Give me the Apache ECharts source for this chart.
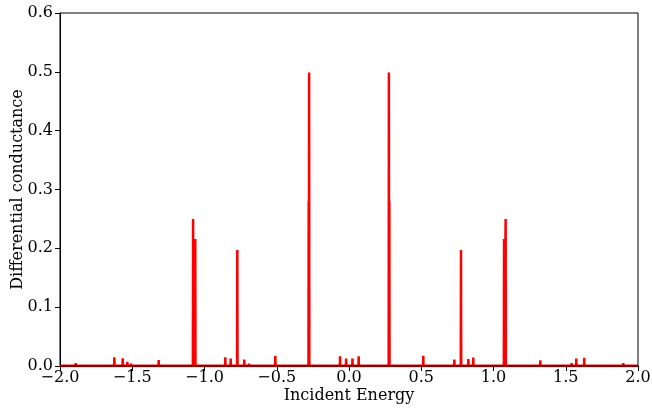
<!DOCTYPE html>
<html>
<head>
<meta charset="utf-8">
<script src="https://cdn.jsdelivr.net/npm/echarts@6/dist/echarts.min.js"></script>
<style>html,body{margin:0;padding:0;background:#fff}#c{width:652px;height:411px}</style>
</head>
<body>
<div id="c"></div>
<script>
// Peak positions (incident energy) and peak heights (differential conductance)
const peakEnergy = [-1.891,-1.869,-1.684,-1.624,-1.566,-1.534,-1.509,-1.317,-1.079,-1.064,-0.891,-0.856,-0.819,-0.773,-0.725,-0.692,-0.510,-0.279,-0.276,-0.090,-0.062,-0.020,0.024,0.067,0.095,0.276,0.279,0.514,0.699,0.729,0.775,0.826,0.860,0.897,1.073,1.084,1.324,1.518,1.541,1.573,1.628,1.691,1.875,1.898];
const peakHeight = [0.005,0.003,0.002,0.015,0.013,0.007,0.004,0.010,0.250,0.216,0.003,0.015,0.0125,0.197,0.011,0.004,0.0175,0.280,0.499,0.003,0.0165,0.0125,0.0125,0.0165,0.003,0.499,0.280,0.0175,0.003,0.011,0.197,0.012,0.0145,0.003,0.216,0.250,0.0095,0.003,0.005,0.0125,0.014,0.002,0.003,0.005];
const xTicks = [-2.0,-1.5,-1.0,-0.5,0.0,0.5,1.0,1.5,2.0];
const yTicks = [0.0,0.1,0.2,0.3,0.4,0.5,0.6];

const pts = [[-2,0]];
for (let i = 0; i < peakEnergy.length; i++) {
  const e = peakEnergy[i], h = peakHeight[i];
  pts.push([e - 0.0015, 0], [e, h], [e + 0.0015, 0]);
}
pts.push([2,0]);

const font = 'DejaVu Serif';
const fs = 16;
const fmt = v => (v < 0 ? '\u2212' : '') + Math.abs(v).toFixed(1);
const chart = echarts.init(document.getElementById('c'), null, {renderer:'canvas'});
chart.setOption({
  animation: false,
  backgroundColor: '#fff',
  grid: {left: 60, right: 14, top: 13, bottom: 45, containLabel: false, outerBoundsMode: 'none',
         show: true, borderColor: '#000', borderWidth: 1, backgroundColor: 'transparent'},
  xAxis: {
    type: 'value', min: xTicks[0], max: xTicks[xTicks.length-1], interval: 0.5, z: 3,
    name: 'Incident Energy', nameLocation: 'middle', nameGap: 22, nameMoveOverlap: false,
    nameTextStyle: {fontFamily: font, fontSize: fs, color: '#000'},
    axisLine: {show: true, onZero: false, lineStyle: {color: '#000', width: 1}},
    axisTick: {show: true, length: 5, lineStyle: {color: '#000'}},
    axisLabel: {fontFamily: font, fontSize: fs, color: '#000', margin: 4, formatter: fmt, showMinLabel: true, showMaxLabel: true},
    splitLine: {show: false}
  },
  yAxis: {
    type: 'value', min: yTicks[0], max: yTicks[yTicks.length-1], interval: 0.1,
    name: 'Differential conductance', nameLocation: 'middle', nameGap: 34, nameMoveOverlap: false,
    nameTextStyle: {fontFamily: font, fontSize: fs, color: '#000'},
    axisLine: {show: true, onZero: false, lineStyle: {color: '#000', width: 1}},
    axisTick: {show: true, length: 5, lineStyle: {color: '#000'}},
    axisLabel: {fontFamily: font, fontSize: fs, color: '#000', margin: 7, formatter: v => v.toFixed(1)},
    splitLine: {show: false}
  },
  series: [{
    type: 'line', data: pts, showSymbol: false, symbol: 'none', clip: true,
    lineStyle: {color: '#ff0000', width: 2.5}
  }, {
    type: 'line', data: [[-2,0],[2,0]], showSymbol: false, symbol: 'none', z: 4,
    lineStyle: {color: '#8b0000', width: 2.5}
  }]
});
</script>
</body>
</html>
